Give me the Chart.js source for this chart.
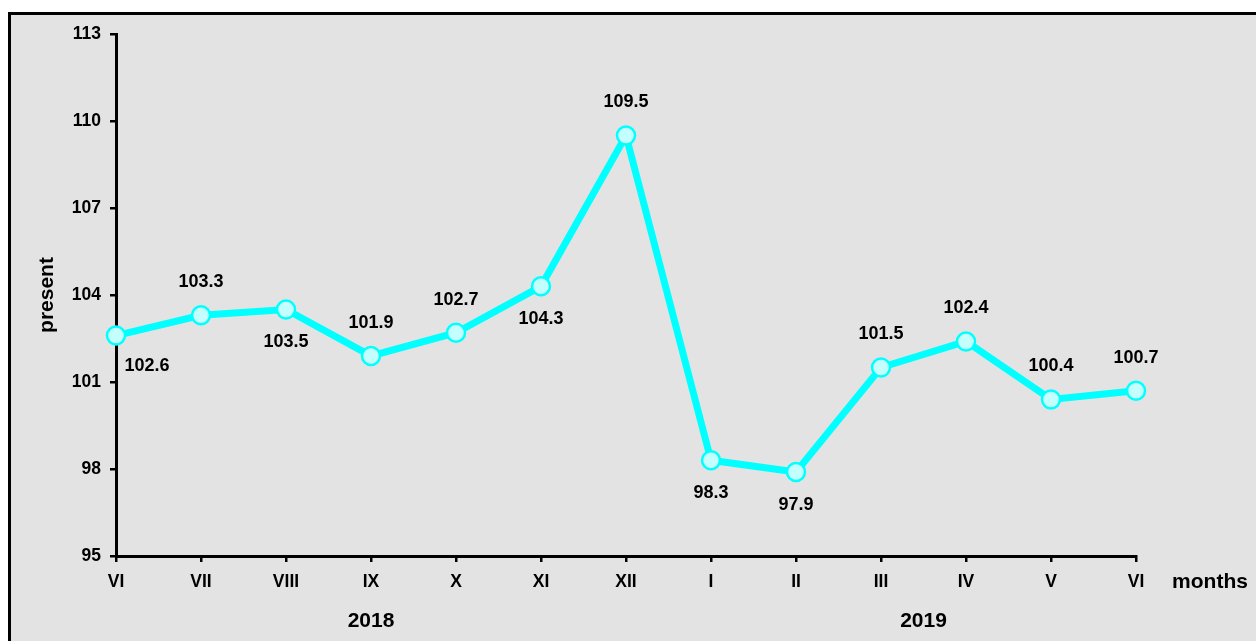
<!DOCTYPE html>
<html>
<head>
<meta charset="utf-8">
<script src="https://cdn.jsdelivr.net/npm/chart.js@4.4.1/dist/chart.umd.min.js"></script>
<style>
  html, body { margin: 0; padding: 0; background: #fff; }
  #wrap { width: 1256px; height: 641px; position: relative; }
</style>
</head>
<body>
<div id="wrap"><canvas id="myChart"></canvas></div>
<script>
// months on the x axis (Jun 2018 .. Jun 2019)
const months = ["VI", "VII", "VIII", "IX", "X", "XI", "XII", "I", "II", "III", "IV", "V", "VI"];
const values = [102.6, 103.3, 103.5, 101.9, 102.7, 104.3, 109.5, 98.3, 97.9, 101.5, 102.4, 100.4, 100.7];

// year groups under the month labels
const years = ["2018", "2019"];
const yearFirst = [0, 7];
const yearLast = [6, 12];

// where each value label sits relative to its point
const labelSide = ["belowRight", "above", "below", "above", "above", "below", "above",
                   "below", "below", "above", "above", "above", "above"];

const FONT = "'Liberation Sans', Arial, sans-serif";

// grey panel with black frame
const panelPlugin = {
  id: 'panelPlugin',
  beforeDraw(chart) {
    const { ctx, width, height } = chart;
    ctx.save();
    ctx.fillStyle = '#ffffff';
    ctx.fillRect(0, 0, width, height);
    ctx.fillStyle = '#e3e3e3';
    ctx.fillRect(9, 13, width, height);
    ctx.strokeStyle = '#000';
    ctx.lineWidth = 3;
    ctx.strokeRect(9.5, 13.5, width + 10, height + 10);
    ctx.restore();
  }
};

// value labels, year captions and "months"
const textPlugin = {
  id: 'textPlugin',
  afterDatasetsDraw(chart) {
    const { ctx, scales: { x } } = chart;
    const meta = chart.getDatasetMeta(0);
    ctx.save();
    ctx.fillStyle = '#000';
    ctx.textAlign = 'center';
    ctx.textBaseline = 'middle';
    ctx.font = 'bold 18px ' + FONT;
    meta.data.forEach((pt, i) => {
      let dx = 0, dy = -33;
      if (labelSide[i] === 'below') dy = 33;
      if (labelSide[i] === 'belowRight') { dx = 31; dy = 30; }
      ctx.fillText(values[i].toFixed(1), pt.x + dx, pt.y + dy);
    });

    ctx.font = 'bold 21px ' + FONT;
    years.forEach((y, i) => {
      const cx = (x.getPixelForValue(yearFirst[i]) + x.getPixelForValue(yearLast[i])) / 2;
      ctx.fillText(y, cx, 621);
    });
    ctx.fillText('months', 1210, 582);
    ctx.restore();
  }
};

new Chart("myChart", {
  type: "line",
  data: {
    labels: months,
    datasets: [{
      data: values,
      borderColor: '#00ffff',
      borderWidth: 7,
      pointRadius: 9,
      pointBorderWidth: 2.5,
      pointBackgroundColor: '#c4ffff',
      pointBorderColor: '#00ffff',
      tension: 0
    }]
  },
  options: {
    responsive: true,
    maintainAspectRatio: false,
    animation: false,
    layout: { padding: { left: 0, right: 120, top: 34, bottom: 0 } },
    plugins: {
      legend: { display: false },
      tooltip: { enabled: false }
    },
    scales: {
      x: {
        offset: false,
        grid: { display: true, drawOnChartArea: false, drawTicks: true, tickLength: 6, color: '#000', lineWidth: 2.5 },
        border: { display: true, color: '#000', width: 3 },
        ticks: { color: '#000', font: { family: FONT, size: 17.5, weight: 'bold' }, padding: 10, maxRotation: 0, autoSkip: false },
        afterFit(scale) { scale.height = 85; }
      },
      y: {
        min: 95,
        max: 113,
        grid: { display: true, drawOnChartArea: false, drawTicks: true, tickLength: 6, color: '#000', lineWidth: 2.5 },
        border: { display: true, color: '#000', width: 3 },
        ticks: { stepSize: 3, color: '#000', font: { family: FONT, size: 17.5, weight: 'bold' }, padding: 9 },
        title: {
          display: true,
          text: 'present',
          color: '#000',
          font: { family: FONT, size: 21, weight: 'bold' },
          padding: { top: 35, bottom: 0 }
        },
        afterFit(scale) { scale.width = 116; }
      }
    }
  },
  plugins: [panelPlugin, textPlugin]
});
</script>
</body>
</html>
